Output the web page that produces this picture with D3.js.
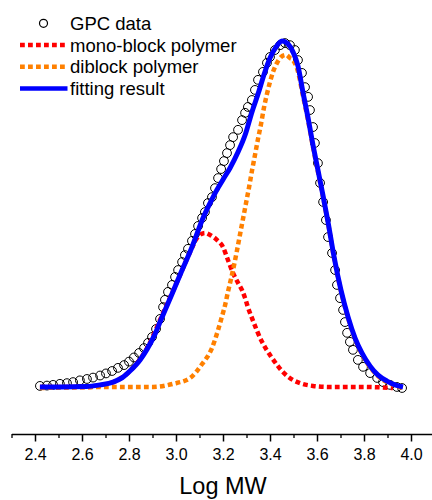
<!DOCTYPE html>
<html>
<head>
<meta charset="utf-8">
<script src="https://cdn.jsdelivr.net/npm/d3@7"></script>
<style>
  body { margin: 0; background: #fff; }
  svg { display: block; }
</style>
</head>
<body>
<div id="chart"></div>
<script>
// GPC trace (open circles), normalised intensity vs log MW
const gpcLogMW = [2.421, 2.451, 2.477, 2.506, 2.536, 2.562, 2.591, 2.621, 2.647, 2.677, 2.702, 2.728, 2.753, 2.779, 2.800, 2.821, 2.843, 2.864, 2.881, 2.898, 2.915, 2.932,
  2.945, 2.953, 2.966, 2.983, 2.996, 3.009, 3.026, 3.038, 3.051, 3.068, 3.081, 3.094, 3.111, 3.123, 3.136, 3.153, 3.166, 3.179, 3.192, 3.204, 3.217, 3.230, 3.243,
  3.264, 3.281, 3.294, 3.306, 3.323, 3.336, 3.349, 3.370, 3.387, 3.400, 3.421, 3.443, 3.464, 3.485, 3.506, 3.519, 3.536, 3.549, 3.562, 3.570, 3.583, 3.591, 3.604,
  3.613, 3.626, 3.638, 3.647, 3.664, 3.677, 3.685, 3.698, 3.711, 3.719, 3.728, 3.740, 3.753, 3.774, 3.796, 3.826, 3.856, 3.881, 3.911, 3.940, 3.962];
const gpcSignal = [0.006, 0.007, 0.009, 0.012, 0.014, 0.017, 0.022, 0.026, 0.030, 0.036, 0.042, 0.049, 0.058, 0.066, 0.076, 0.088, 0.101, 0.115, 0.130, 0.147, 0.170, 0.199,
  0.233, 0.254, 0.277, 0.297, 0.320, 0.340, 0.363, 0.383, 0.401, 0.424, 0.444, 0.467, 0.490, 0.507, 0.533, 0.550, 0.576, 0.605, 0.631, 0.654, 0.677, 0.700, 0.723,
  0.744, 0.772, 0.793, 0.810, 0.830, 0.859, 0.888, 0.911, 0.937, 0.954, 0.974, 0.988, 0.994, 0.988, 0.974, 0.945, 0.908, 0.867, 0.839, 0.801, 0.752, 0.706, 0.648,
  0.591, 0.536, 0.484, 0.435, 0.389, 0.340, 0.297, 0.259, 0.225, 0.190, 0.159, 0.133, 0.110, 0.081, 0.061, 0.043, 0.029, 0.017, 0.009, 0.003, 0.000];

// mono-block polymer peak
const monoLogMW = [2.421, 2.621, 2.732, 2.804, 2.877, 2.945, 3.004, 3.060, 3.089, 3.123, 3.145, 3.174, 3.200, 3.221, 3.243, 3.264, 3.281, 3.294, 3.306, 3.323,
  3.366, 3.400, 3.434, 3.455, 3.498, 3.528, 3.583, 3.655, 3.796, 3.923];
const monoSignal = [0.003, 0.003, 0.017, 0.049, 0.115, 0.216, 0.305, 0.392, 0.432, 0.447, 0.441, 0.427, 0.406, 0.369, 0.331, 0.303, 0.282, 0.259, 0.233, 0.202,
  0.133, 0.095, 0.063, 0.046, 0.023, 0.014, 0.006, 0.003, 0.003, 0.000];

// diblock polymer peak
const diLogMW = [2.421, 2.762, 2.902, 2.987, 3.060, 3.111, 3.153, 3.179, 3.196, 3.209, 3.221, 3.234, 3.247, 3.260, 3.272, 3.285, 3.298, 3.311, 3.323, 3.336,
  3.349, 3.362, 3.374, 3.387, 3.400, 3.413, 3.430, 3.447, 3.468, 3.485, 3.498, 3.519, 3.540, 3.562, 3.583, 3.604, 3.626, 3.647, 3.672, 3.702, 3.732, 3.762,
  3.791, 3.826, 3.860, 3.898, 3.932, 3.966];
const diSignal = [0.000, 0.003, 0.003, 0.012, 0.029, 0.069, 0.115, 0.167, 0.207, 0.239, 0.277, 0.314, 0.354, 0.398, 0.441, 0.487, 0.533, 0.579, 0.625, 0.671,
  0.718, 0.761, 0.807, 0.847, 0.882, 0.911, 0.937, 0.954, 0.960, 0.951, 0.945, 0.912, 0.843, 0.771, 0.694, 0.623, 0.549, 0.475, 0.377, 0.279, 0.202, 0.141,
  0.098, 0.060, 0.034, 0.017, 0.007, 0.000];

// fitting result (sum of the two peaks)
const fitLogMW = [2.421, 2.506, 2.621, 2.677, 2.732, 2.770, 2.804, 2.847, 2.877, 2.911, 2.932, 2.983, 3.026, 3.068, 3.115, 3.145, 3.174, 3.204, 3.230, 3.264,
  3.294, 3.323, 3.349, 3.374, 3.400, 3.426, 3.451, 3.477, 3.498, 3.519, 3.540, 3.562, 3.583, 3.604, 3.626, 3.647, 3.672, 3.702, 3.732, 3.762, 3.791, 3.826,
  3.860, 3.898, 3.932, 3.966];
const fitSignal = [0.003, 0.003, 0.004, 0.009, 0.017, 0.029, 0.049, 0.081, 0.112, 0.156, 0.190, 0.271, 0.340, 0.406, 0.490, 0.533, 0.571, 0.605, 0.634, 0.680,
  0.729, 0.795, 0.847, 0.902, 0.951, 0.983, 1.000, 0.991, 0.968, 0.928, 0.853, 0.778, 0.700, 0.628, 0.553, 0.478, 0.380, 0.282, 0.205, 0.144, 0.101, 0.063,
  0.037, 0.020, 0.009, 0.003];

const majorTicks = [2.4, 2.6, 2.8, 3.0, 3.2, 3.4, 3.6, 3.8, 4.0];
const minorTicks = [2.3, 2.5, 2.7, 2.9, 3.1, 3.3, 3.5, 3.7, 3.9];
const legendLabels = ['GPC data', 'mono-block polymer', 'diblock polymer', 'fitting result'];

var width = 432, height = 500;
var font = '"Liberation Sans", Arial, sans-serif';

var svg = d3.select('#chart').append('svg')
    .attr('width', width)
    .attr('height', height);

var x = d3.scaleLinear().domain([2.3, 4.1]).range([11.5, 434.5]);
var y = d3.scaleLinear().domain([0, 1]).range([388, 41]);

var axisY = 434;

// minor ticks first, then the major axis with labels on top
svg.append('g')
    .attr('transform', 'translate(0,' + axisY + ')')
    .call(d3.axisBottom(x).tickValues(minorTicks).tickSize(4).tickSizeOuter(0).tickFormat(''))
    .call(g => g.select('.domain').remove())
    .call(g => g.selectAll('line').attr('stroke', '#000').attr('stroke-width', 1.3));

var xAxis = svg.append('g')
    .attr('transform', 'translate(0,' + axisY + ')')
    .call(d3.axisBottom(x).tickValues(majorTicks).tickSize(7.5).tickSizeOuter(0)
        .tickPadding(7).tickFormat(d3.format('.1f')));

xAxis.select('.domain').attr('stroke', '#000').attr('stroke-width', 1.5);
xAxis.selectAll('line').attr('stroke', '#000').attr('stroke-width', 1.5);
xAxis.selectAll('text')
    .style('font-family', font)
    .style('font-size', '16px')
    .attr('fill', '#000');

svg.append('text')
    .attr('x', (x.range()[0] + x.range()[1]) / 2)
    .attr('y', 494)
    .text('Log MW')
    .style('font-family', font)
    .style('font-size', '23.5px')
    .style('text-anchor', 'middle');

var line = d3.line()
    .x(d => x(d[0]))
    .y(d => y(d[1]))
    .curve(d3.curveMonotoneX);

// GPC data
svg.append('g').selectAll('circle')
    .data(d3.zip(gpcLogMW, gpcSignal))
    .join('circle')
    .attr('cx', d => x(d[0]))
    .attr('cy', d => y(d[1]))
    .attr('r', 4.4)
    .attr('fill', 'none')
    .attr('stroke', '#000')
    .attr('stroke-width', 1);

svg.append('path')
    .datum(d3.zip(monoLogMW, monoSignal))
    .attr('d', line)
    .attr('fill', 'none')
    .attr('stroke', '#ff0000')
    .attr('stroke-width', 4.5)
    .attr('stroke-dasharray', '4.8,3.2');

svg.append('path')
    .datum(d3.zip(diLogMW, diSignal))
    .attr('d', line)
    .attr('fill', 'none')
    .attr('stroke', '#ff8000')
    .attr('stroke-width', 4.5)
    .attr('stroke-dasharray', '4.8,3.2');

svg.append('path')
    .datum(d3.zip(fitLogMW, fitSignal))
    .attr('d', line)
    .attr('fill', 'none')
    .attr('stroke', '#0000ff')
    .attr('stroke-width', 5)
    .attr('stroke-linejoin', 'round');

// legend
var legendStyles = [
    {type: 'circle'},
    {type: 'line', color: '#ff0000', dash: '4.8,3.2', w: 4.5},
    {type: 'line', color: '#ff8000', dash: '4.8,3.2', w: 4.5},
    {type: 'line', color: '#0000ff', dash: null, w: 4.5}
];
var legendTop = 23.3, legendStep = 21.7;

legendLabels.forEach((label, i) => {
    var cy = legendTop + i * legendStep;
    var s = legendStyles[i];
    if (s.type === 'circle') {
        svg.append('circle')
            .attr('cx', 43.5).attr('cy', cy).attr('r', 4)
            .attr('fill', 'none').attr('stroke', '#000').attr('stroke-width', 1.2);
    } else {
        svg.append('line')
            .attr('x1', 20).attr('x2', 67.5)
            .attr('y1', cy).attr('y2', cy)
            .attr('stroke', s.color)
            .attr('stroke-width', s.w)
            .attr('stroke-dasharray', s.dash);
    }
    svg.append('text')
        .attr('x', 70)
        .attr('y', cy + 6.5)
        .text(label)
        .style('font-family', font)
        .style('font-size', '18.5px');
});
</script>
</body>
</html>
